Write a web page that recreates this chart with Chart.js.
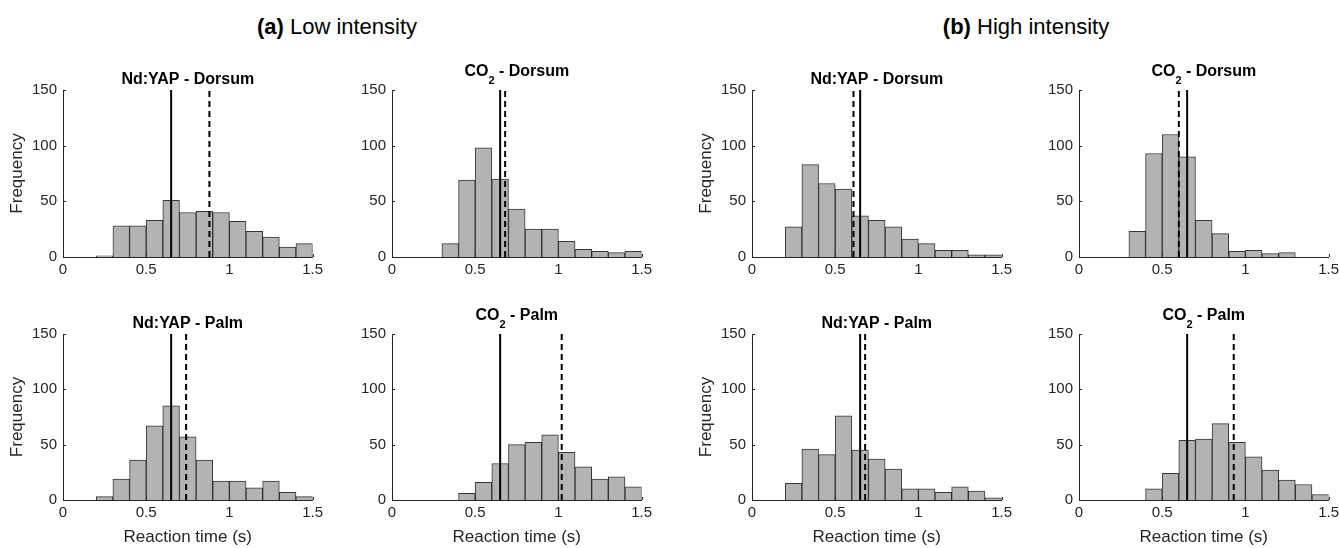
<!DOCTYPE html>
<html>
<head>
<meta charset="utf-8">
<script src="https://cdn.jsdelivr.net/npm/chart.js@4.4.1/dist/chart.umd.min.js"></script>
<style>
  html, body { margin: 0; padding: 0; background: #fff; }
  body { width: 1339px; height: 548px; position: relative; overflow: hidden;
         font-family: "Liberation Sans", Arial, sans-serif; color: #000; }
  .group { position: absolute; font-size: 22px; white-space: nowrap; transform: translate(-50%, -50%); }
  .group b { font-weight: bold; }
  .panel { position: absolute; }
</style>
</head>
<body>
<div class="group" style="left:337px; top:27px;"><b>(a)</b> Low intensity</div>
<div class="group" style="left:1026px; top:27px;"><b>(b)</b> High intensity</div>

<script>
// histogram bins (s), 0.1 s wide
const binCenters = [0.05, 0.15, 0.25, 0.35, 0.45, 0.55, 0.65, 0.75, 0.85, 0.95, 1.05, 1.15, 1.25, 1.35, 1.45];
const xTicks = [0, 0.5, 1, 1.5];
const yTicks = [0, 50, 100, 150];

// counts per bin
const lowYapDorsum  = [0, 0, 1, 28, 28, 33, 51, 40, 41, 40, 32, 23, 18, 9, 12];
const lowCo2Dorsum  = [0, 0, 0, 12, 69, 98, 70, 43, 25, 25, 14, 7, 5, 4, 5];
const highYapDorsum = [0, 0, 27, 83, 66, 61, 37, 33, 27, 16, 12, 6, 6, 2, 2];
const highCo2Dorsum = [0, 0, 0, 23, 93, 110, 90, 33, 21, 5, 6, 3, 4, 0, 0];
const lowYapPalm    = [0, 0, 3, 19, 36, 67, 85, 57, 36, 17, 17, 11, 17, 7, 3];
const lowCo2Palm    = [0, 0, 0, 0, 6, 16, 33, 50, 52, 59, 43, 30, 19, 21, 12];
const highYapPalm   = [0, 0, 15, 46, 41, 76, 45, 37, 28, 10, 10, 7, 12, 8, 2];
const highCo2Palm   = [0, 0, 0, 0, 10, 24, 54, 55, 69, 52, 39, 27, 18, 14, 5];

// reference lines (s): solid and dashed, in panel order
const panelTitles = ['Nd:YAP - Dorsum', 'CO₂ - Dorsum', 'Nd:YAP - Dorsum', 'CO₂ - Dorsum',
                     'Nd:YAP - Palm', 'CO₂ - Palm', 'Nd:YAP - Palm', 'CO₂ - Palm'];
const solidLines  = [0.65, 0.65, 0.65, 0.65, 0.65, 0.65, 0.65, 0.65];
const dashedLines = [0.88, 0.68, 0.61, 0.60, 0.74, 1.02, 0.68, 0.93];
const panelCounts = [lowYapDorsum, lowCo2Dorsum, highYapDorsum, highCo2Dorsum,
                     lowYapPalm, lowCo2Palm, highYapPalm, highCo2Palm];

const FONT = '"Liberation Sans", Arial, sans-serif';
const INK = '#262626';

// plot area placement
const colLeft = [63, 392, 752, 1079];
const rowTop = [90, 334];
const rowHeight = [167, 166];
const plotW = 250;
const yAxisW = 63, topPad = 40, rightPad = 14;
const xAxisH = [30, 48];

// inward tick marks + title with subscript digits
const panelDecor = {
  id: 'panelDecor',
  afterDraw(chart, args, opts) {
    const { ctx, chartArea: a, scales: { x, y } } = chart;
    ctx.save();
    ctx.strokeStyle = INK;
    ctx.lineWidth = 1;
    ctx.beginPath();
    x.ticks.forEach(t => {
      const px = Math.round(x.getPixelForValue(t.value)) + 0.5;
      ctx.moveTo(px, a.bottom);
      ctx.lineTo(px, a.bottom - 3);
    });
    y.ticks.forEach(t => {
      const py = Math.round(y.getPixelForValue(t.value)) + 0.5;
      ctx.moveTo(a.left, py);
      ctx.lineTo(a.left + 3, py);
    });
    ctx.stroke();

    // split title into normal / subscript runs
    const subs = '₀₁₂₃₄₅₆₇₈₉';
    const runs = [];
    for (const ch of opts.text) {
      const i = subs.indexOf(ch);
      const isSub = i >= 0;
      const c = isSub ? String(i) : ch;
      if (runs.length && runs[runs.length - 1].sub === isSub) runs[runs.length - 1].t += c;
      else runs.push({ t: c, sub: isSub });
    }
    const hasSub = runs.some(r => r.sub);
    const mainFont = 'bold 16px ' + FONT;
    const subFont = 'bold 11px ' + FONT;
    let total = 0;
    runs.forEach(r => {
      ctx.font = r.sub ? subFont : mainFont;
      r.w = ctx.measureText(r.t).width;
      total += r.w;
    });
    let cx = (a.left + a.right) / 2 - total / 2;
    const base = hasSub ? a.top - 14 : a.top - 6;
    ctx.fillStyle = '#000';
    ctx.textBaseline = 'alphabetic';
    ctx.textAlign = 'left';
    runs.forEach(r => {
      ctx.font = r.sub ? subFont : mainFont;
      ctx.fillText(r.t, cx, r.sub ? a.top - 6 : base);
      cx += r.w;
    });
    ctx.restore();
  }
};

function vline(xv, dashed) {
  return {
    type: 'line',
    data: [{ x: xv, y: 0 }, { x: xv, y: 150 }],
    borderColor: '#000',
    borderWidth: 2,
    borderDash: dashed ? [6, 4] : [],
    pointRadius: 0,
    order: 0
  };
}

panelCounts.forEach((counts, i) => {
  const row = Math.floor(i / 4), col = i % 4;
  const w = yAxisW + plotW + rightPad;
  const h = topPad + rowHeight[row] + xAxisH[row];
  const canvas = document.createElement('canvas');
  canvas.className = 'panel';
  canvas.width = w;
  canvas.height = h;
  canvas.style.left = (colLeft[col] - yAxisW) + 'px';
  canvas.style.top = (rowTop[row] - topPad) + 'px';
  document.body.appendChild(canvas);

  new Chart(canvas.getContext('2d'), {
    type: 'bar',
    data: {
      datasets: [
        vline(solidLines[i], false),
        vline(dashedLines[i], true),
        {
          type: 'bar',
          data: binCenters.map((c, k) => ({ x: c, y: counts[k] })),
          backgroundColor: '#b3b3b3',
          borderColor: 'rgba(20,20,20,0.85)',
          borderWidth: 1,
          barPercentage: 1,
          categoryPercentage: 1,
          order: 1
        }
      ]
    },
    options: {
      responsive: false,
      animation: false,
      events: [],
      layout: { padding: { top: topPad, right: rightPad, left: 0, bottom: 0 } },
      plugins: {
        legend: { display: false },
        tooltip: { enabled: false },
        panelDecor: { text: panelTitles[i] }
      },
      scales: {
        x: {
          type: 'linear',
          min: 0,
          max: 1.5,
          offset: false,
          afterBuildTicks: s => { s.ticks = xTicks.map(v => ({ value: v })); },
          ticks: {
            color: INK, font: { family: FONT, size: 15 }, padding: 4, maxRotation: 0,
            callback: v => String(v)
          },
          grid: { display: false, drawTicks: false },
          border: { display: true, color: INK, width: 1 },
          title: {
            display: row === 1,
            text: 'Reaction time (s)',
            color: INK,
            font: { family: FONT, size: 17 },
            padding: { top: 0, bottom: 0 }
          },
          afterFit: s => { s.height = xAxisH[row]; }
        },
        y: {
          min: 0,
          max: 150,
          afterBuildTicks: s => { s.ticks = yTicks.map(v => ({ value: v })); },
          ticks: { color: INK, font: { family: FONT, size: 15 }, padding: 6, callback: v => String(v) },
          grid: { display: false, drawTicks: false },
          border: { display: true, color: INK, width: 1 },
          title: {
            display: col === 0 || col === 2,
            text: 'Frequency',
            color: INK,
            font: { family: FONT, size: 17 },
            padding: { top: 7, bottom: 0 }
          },
          afterFit: s => { s.width = yAxisW; }
        }
      }
    },
    plugins: [panelDecor]
  });
});
</script>
</body>
</html>
